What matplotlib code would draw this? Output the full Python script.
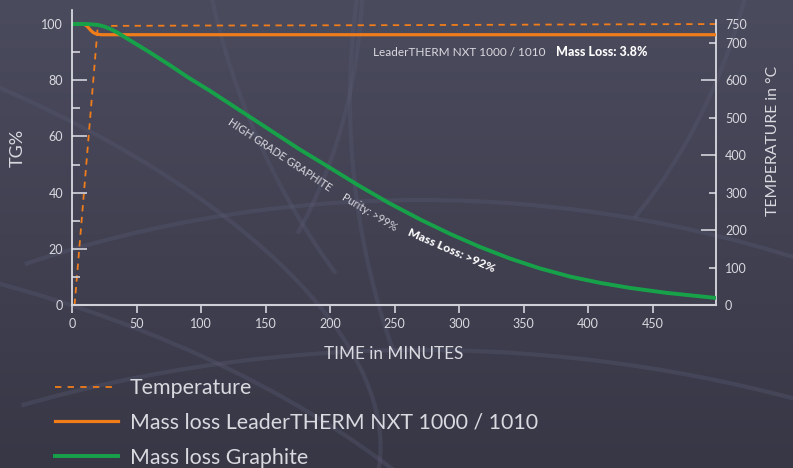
import numpy as np
import matplotlib
matplotlib.use("Agg")
import matplotlib.pyplot as plt
from matplotlib.lines import Line2D
from matplotlib.patches import Arc

# ---------------- data ----------------
temp_time = [2, 20, 100, 250, 400, 499]
temp_vals = [0, 745, 746, 747, 749, 750]

nxt_time = [0, 8, 10, 12, 14, 16, 18, 20, 23, 499]
nxt_vals = [100, 100, 99.8, 99.1, 98.0, 97.1, 96.6, 96.35, 96.2, 96.2]

gra_time = [0, 12, 20, 25, 30, 35, 40, 45, 50, 60, 75, 90, 107, 130, 153, 176, 200,
            223, 246, 270, 293, 316, 339, 362, 386, 409, 432, 461, 499]
gra_vals = [100, 100, 99.7, 99.1, 98.2, 97.0, 95.6, 94.2, 92.8, 90.0, 85.6, 81.0, 76.2,
            69.3, 62.4, 55.5, 48.8, 42.3, 36.2, 30.4, 25.3, 20.7, 16.6, 13.1, 10.1,
            7.9, 6.1, 4.3, 2.5]

x_ticks = [0, 50, 100, 150, 200, 250, 300, 350, 400, 450]
y_major = [0, 20, 40, 60, 80, 100]
y_minor = [10, 30, 50, 70, 90]
t_ticks = [0, 100, 200, 300, 400, 500, 600, 700, 750]

legend_labels = ["Temperature", "Mass loss LeaderTHERM NXT 1000 / 1010", "Mass loss Graphite"]

# ---------------- style ----------------
ORANGE = "#f07d1a"
GREEN = "#17a24a"
TXT = "#d9d9e0"
TICK = "#c9c9d2"
FONT = ["Lato", "DejaVu Sans"]
W, H = 793, 468

plt.rcParams["font.family"] = FONT

fig = plt.figure(figsize=(W / 100, H / 100), dpi=100)

# background gradient + faint globe lines
bg = fig.add_axes([0, 0, 1, 1], zorder=-10)
grad = np.linspace(0, 1, 256).reshape(-1, 1)
top = np.array([0x4b, 0x4b, 0x5e]) / 255
bot = np.array([0x37, 0x37, 0x46]) / 255
img = top[None, None, :] * (1 - grad[:, :, None]) + bot[None, None, :] * grad[:, :, None]
bg.imshow(img, extent=[0, W, H, 0], aspect="auto")
bg.set_xlim(0, W)
bg.set_ylim(H, 0)
arc_col = "#575770"
arcs = [
    ((420, 1350), 2400, 2300, 0, 250, 290),
    ((420, 1500), 2600, 2300, 0, 250, 290),
    ((420, 1650), 2800, 2300, 0, 250, 290),
    ((-300, 300), 1400, 600, 15, 300, 360),
    ((-200, 700), 1600, 900, 10, 280, 330),
    ((900, -200), 1400, 1500, 20, 120, 170),
    ((1100, 100), 1500, 1500, 20, 140, 185),
    ((-100, -100), 900, 1100, -20, 0, 60),
    ((200, -300), 1100, 1400, -20, 20, 70),
]
for (c, w_, h_, ang, t1, t2) in arcs:
    bg.add_patch(Arc(c, w_, h_, angle=ang, theta1=t1, theta2=t2,
                     color=arc_col, lw=3, alpha=0.4))
bg.axis("off")

# main axes
ax = fig.add_axes([72 / W, 1 - 305 / H, (716 - 72) / W, (305 - 10) / H])
ax2 = ax.twinx()
ax.set_zorder(ax2.get_zorder() + 1)
ax.patch.set_visible(False)
ax2.patch.set_visible(False)

ax.set_xlim(0, 499)
ax.set_ylim(0, 105)
ax2.set_ylim(0, 105 * 7.5)

ax2.plot(temp_time, temp_vals, color=ORANGE, lw=1.3, dashes=(3.5, 3), zorder=2)
ax.plot(nxt_time, nxt_vals, color=ORANGE, lw=2.3, zorder=2, solid_capstyle="butt",
        solid_joinstyle="round")
ax.plot(gra_time, gra_vals, color=GREEN, lw=2.8, zorder=2, solid_capstyle="butt",
        solid_joinstyle="round")

# spines
for a in (ax, ax2):
    a.spines["top"].set_visible(False)
ax.spines["right"].set_visible(False)
ax2.spines["left"].set_visible(False)
ax2.spines["bottom"].set_visible(False)
ax.spines["left"].set_color("#e6e6ec")
ax.spines["left"].set_linewidth(1.2)
ax.spines["bottom"].set_color("#d0d0d8")
ax.spines["bottom"].set_linewidth(1.5)
ax2.spines["right"].set_color("#e6e6ec")
ax2.spines["right"].set_linewidth(1.2)
ax2.spines["right"].set_bounds(0, 760)

# x ticks
ax.set_xticks(x_ticks)
ax.tick_params(axis="x", direction="out", length=5.5, width=1.3, color=TICK,
               labelcolor=TXT, labelsize=9, pad=3.5)
# left y ticks
ax.set_yticks(y_major)
ax.set_yticks(y_minor, minor=True)
ax.tick_params(axis="y", which="major", direction="in", length=11, width=1.3,
               color=TICK, labelcolor=TXT, labelsize=9, pad=6.5)
ax.tick_params(axis="y", which="minor", direction="in", length=5.5, width=1.3, color=TICK)
# right y ticks
ax2.set_yticks(t_ticks)
ax2.tick_params(axis="y", direction="in", length=5, width=1.3, color=TICK,
                labelcolor=TXT, labelsize=9, pad=6.5)
for tk, v in zip(ax2.yaxis.get_major_ticks(), t_ticks):
    if v in (0, 750):
        tk.tick2line.set_markersize(0)
    elif v % 200 == 0:
        tk.tick2line.set_markersize(10.5)
    else:
        tk.tick2line.set_markersize(5)

# axis labels
fig.text(18 / W, 1 - 148 / H, "TG%", rotation=90, ha="center", va="center",
         color=TXT, fontsize=13)
fig.text(773 / W, 1 - 141 / H, "TEMPERATURE in °C", rotation=90, ha="center", va="center",
         color=TXT, fontsize=11.3)
fig.text(394 / W, 1 - 354 / H, "TIME in MINUTES", ha="center", va="center",
         color=TXT, fontsize=12.3)

# annotations
fig.text(459 / W, 1 - 52 / H, "LeaderTHERM NXT 1000 / 1010", ha="center", va="center",
         color=TXT, fontsize=8.5)
fig.text(602 / W, 1 - 52 / H, "Mass Loss: 3.8%", ha="center", va="center",
         color="white", fontsize=9, fontweight="black")
fig.text(280 / W, 1 - 155 / H, "HIGH GRADE GRAPHITE", ha="center", va="center",
         rotation=-33.7, rotation_mode="anchor", color=TXT, fontsize=7.8)
fig.text(370 / W, 1 - 212 / H, "Purity: >99%", ha="center", va="center",
         rotation=-31, rotation_mode="anchor", color=TXT, fontsize=7.8)
fig.text(451 / W, 1 - 251 / H, "Mass Loss: >92%", ha="center", va="center",
         rotation=-23.5, rotation_mode="anchor", color="white", fontsize=8.8,
         fontweight="black")

# legend
handles = [
    Line2D([], [], color=ORANGE, lw=1.3, dashes=(3.5, 3.5)),
    Line2D([], [], color=ORANGE, lw=2.3),
    Line2D([], [], color=GREEN, lw=2.8),
]
leg = fig.legend(handles, legend_labels, loc="upper left",
                 bbox_to_anchor=(55 / W, 1 - 378 / H), frameon=False,
                 borderpad=0, borderaxespad=0, handlelength=2.95, handletextpad=0.56,
                 labelspacing=0.7, prop={"family": "Lato", "size": 15.4})
for t in leg.get_texts():
    t.set_color(TXT)

fig.savefig("out.png", dpi=100)
